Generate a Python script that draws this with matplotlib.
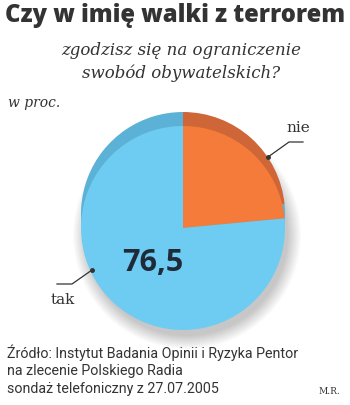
import numpy as np
import matplotlib
matplotlib.use("Agg")
import matplotlib.pyplot as plt
from matplotlib.patches import Circle

# --------- Données ---------
labels = ["nie", "tak"]
values = [23.5, 76.5]
face_colors = ["#f47b39", "#6ecbf1"]
rim_colors = ["#cf6638", "#5cb2d6"]

title = "Czy w imię walki z terrorem"
subtitle = "zgodzisz się na ograniczenie\nswobód obywatelskich?"
unit = "w proc."
big_value = "76,5"
source_lines = ["Źródło: Instytut Badania Opinii i Ryzyka Pentor",
                "na zlecenie Polskiego Radia",
                "sondaż telefoniczny z 27.07.2005"]
author = "M.R."

W, H = 350, 405
fig = plt.figure(figsize=(W / 100, H / 100), dpi=100)
ax = fig.add_axes([0, 0, 1, 1])

cx, cy, r = 183, H - 228, 102
rim_shift = 14

# ombre douce
for k in range(14):
    ax.add_patch(Circle((cx + 4, cy - 7), r + 12 - k, color="#000000",
                        alpha=0.014, lw=0, zorder=1))

# bord "3D" (plus sombre) puis la face
ax.pie(values, colors=rim_colors, startangle=90, counterclock=False,
       center=(cx, cy + rim_shift), radius=r, frame=True,
       wedgeprops=dict(linewidth=0, zorder=2))
ax.pie(values, colors=face_colors, startangle=90, counterclock=False,
       center=(cx, cy), radius=r, frame=True,
       wedgeprops=dict(linewidth=0, zorder=3))
ax.set_xlim(0, W)
ax.set_ylim(0, H)
ax.axis("off")

# lignes de rappel
line_c = "#333333"
ax.plot([268, 289, 303], [H - 157, H - 142, H - 142], color=line_c, lw=0.9, zorder=5)
ax.plot([268], [H - 157], "o", color=line_c, ms=2.5, zorder=5)
ax.plot([92, 72, 57], [H - 270, H - 284, H - 284], color=line_c, lw=0.9, zorder=5)
ax.plot([92], [H - 270], "o", color=line_c, ms=2.5, zorder=5)

serif = "DejaVu Serif"
ax.text(298, H - 128, labels[0], ha="center", va="center", fontsize=11,
        family=serif, color="#333333")
ax.text(63, H - 300, labels[1], ha="center", va="center", fontsize=11,
        family=serif, color="#333333")

ax.text(153, H - 263, big_value, ha="center", va="center", fontsize=22,
        weight="bold", family="Open Sans", color="#1f2b38", zorder=6)

# textes
ax.text(175, H - 16, title, ha="center", va="center", fontsize=17.1,
        weight="heavy", family="Open Sans", color="#333333")
ax.text(181, H - 62, subtitle, ha="center", va="center", fontsize=12,
        family=serif, style="italic", color="#333333", linespacing=1.35)
ax.text(8, H - 103, unit, ha="left", va="center", fontsize=10,
        family=serif, style="italic", color="#333333")

for i, line in enumerate(source_lines):
    ax.text(7, H - 353 - 18 * i, line, ha="left", va="center", fontsize=10.3,
            family="Roboto", color="#333333")
ax.text(340, H - 391, author, ha="right", va="center", fontsize=6.5,
        family=serif, color="#333333")

fig.savefig("out.png", dpi=100)
